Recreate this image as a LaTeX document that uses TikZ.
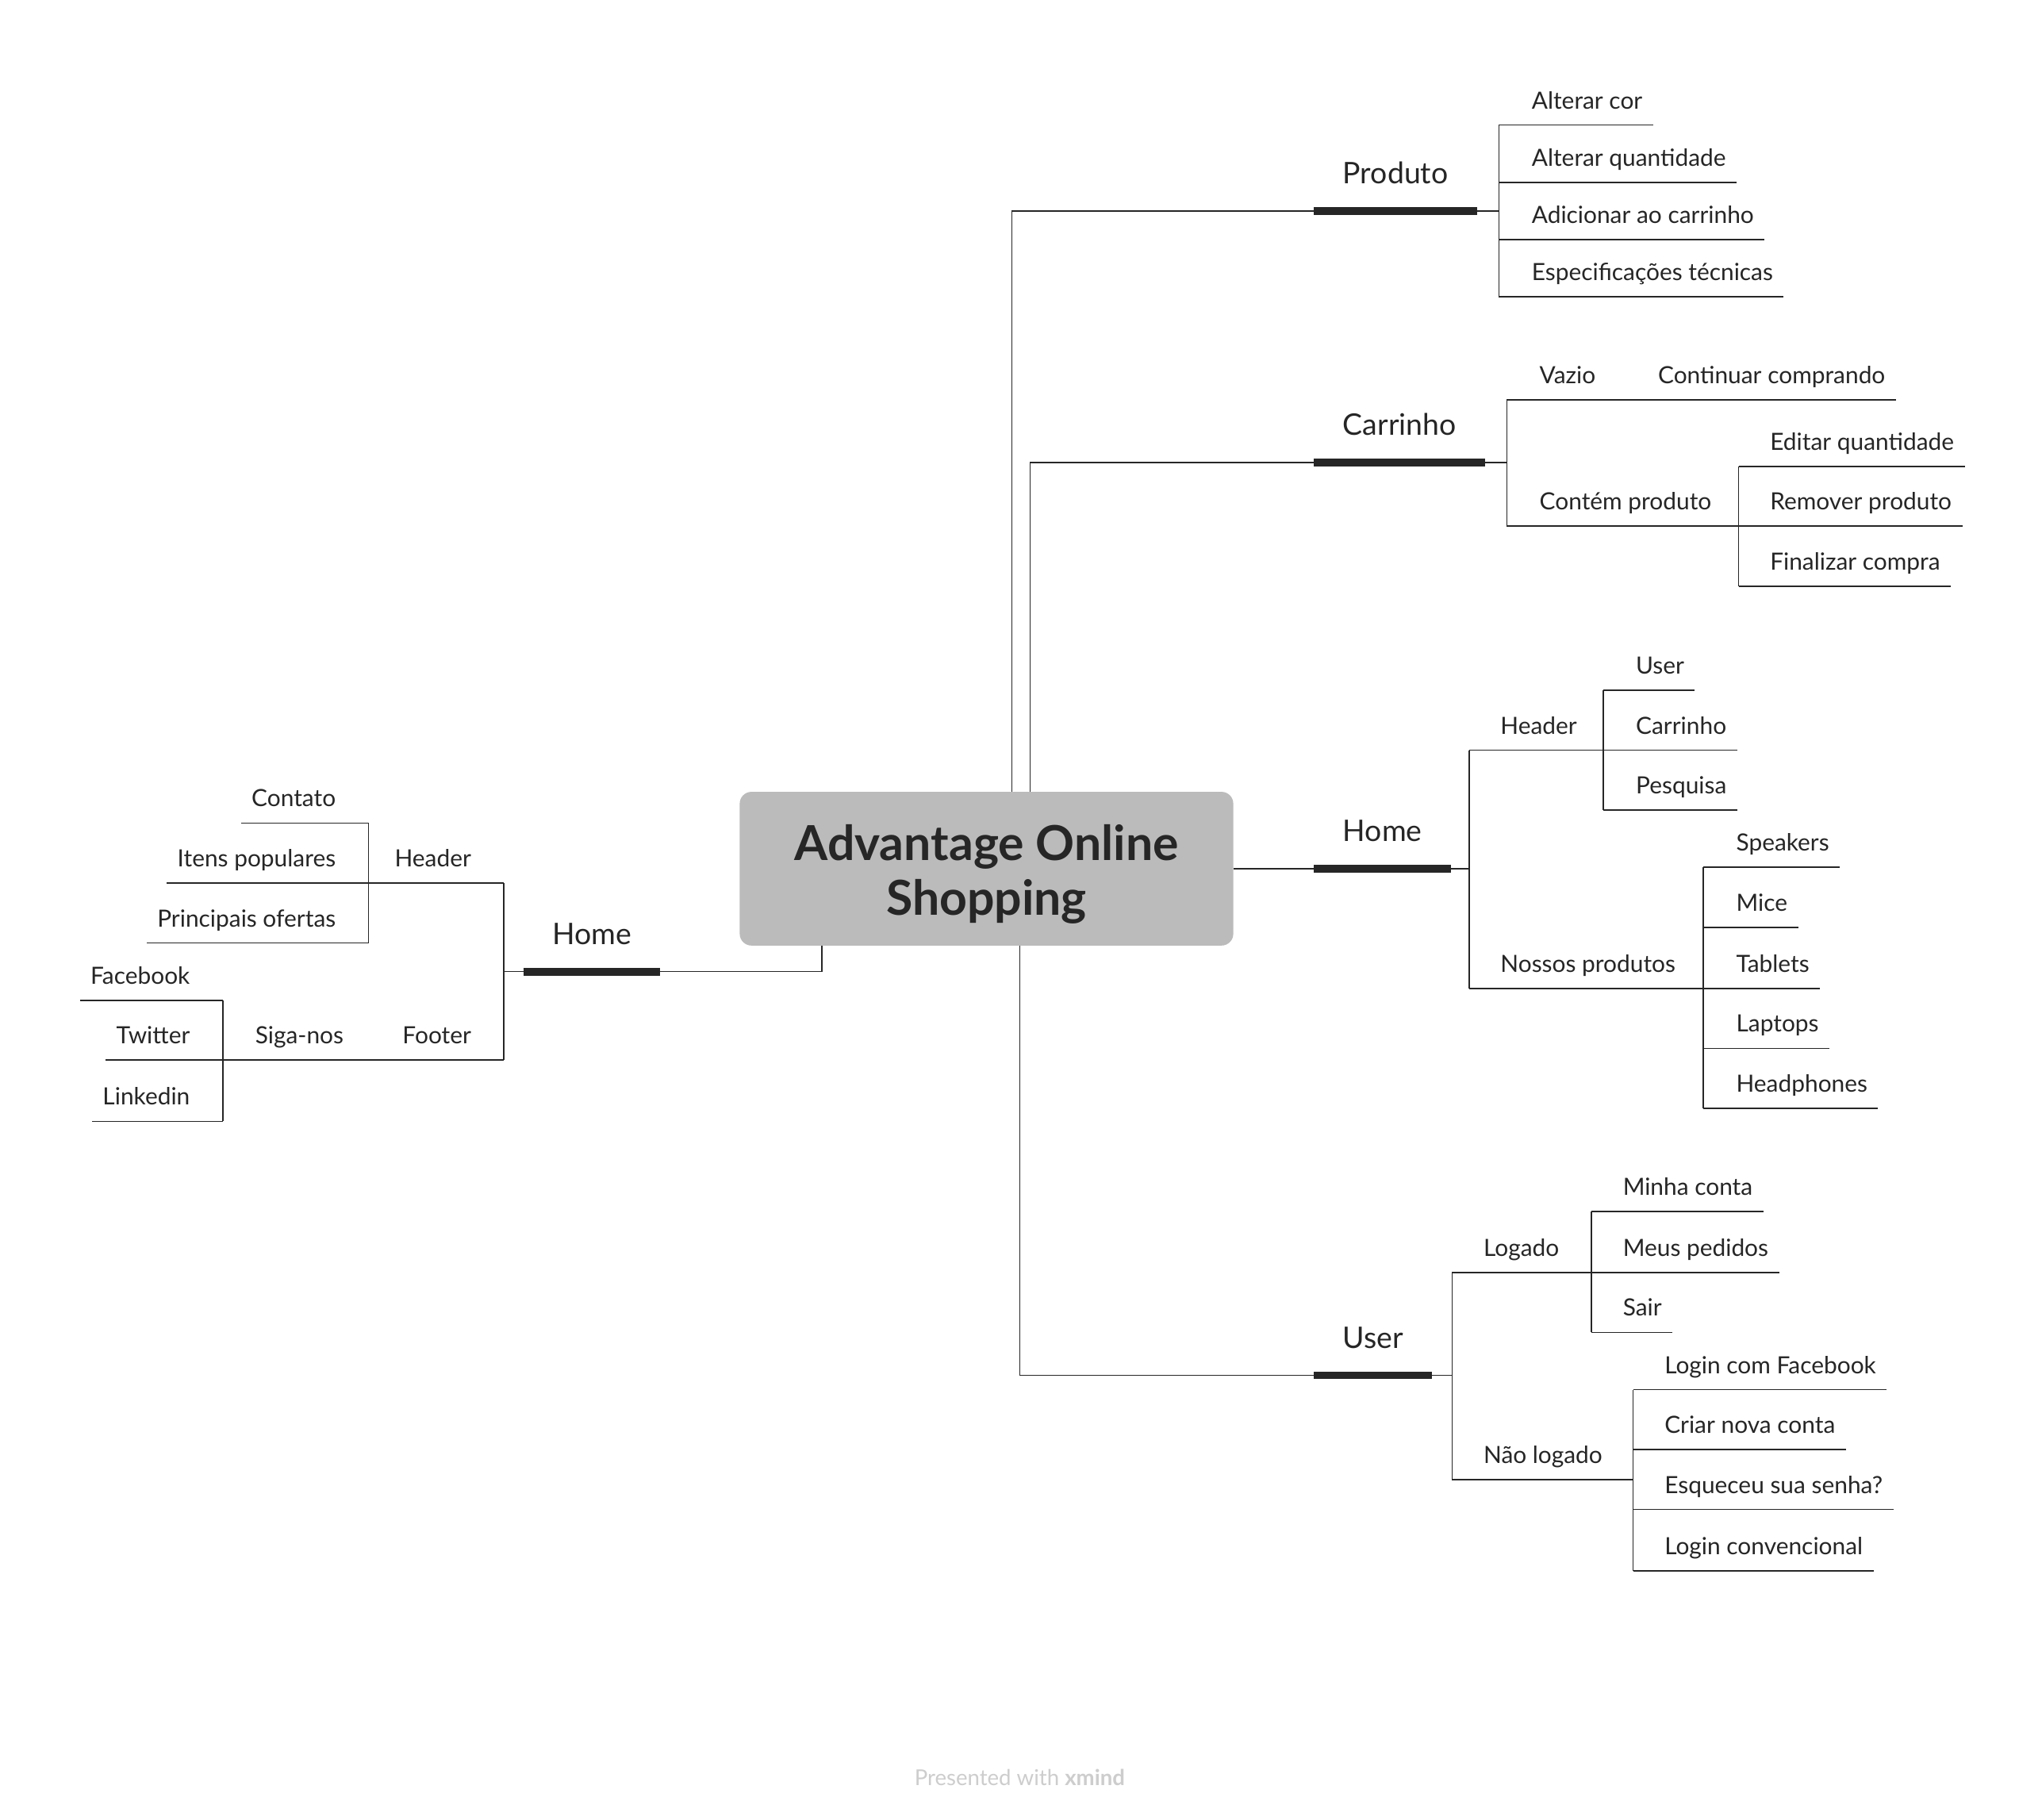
\documentclass[tikz,border=0pt]{standalone}
\usepackage{fontspec}
\setmainfont{Lato}
\definecolor{ink}{RGB}{38,38,38}
\definecolor{rootgray}{RGB}{187,187,187}
\definecolor{credit}{RGB}{205,205,205}

\begin{document}
\begin{tikzpicture}[x=1pt, y=-1pt,
    link/.style={draw=ink, line width=1pt},
    bar/.style={draw=ink, line width=6pt},
    leaf/.style={text=ink, inner sep=0pt, font=\fontsize{18.2}{22}\selectfont},
    topic/.style={text=ink, inner ysep=0pt, inner xsep=22pt, font=\fontsize{22.8}{27}\selectfont},
    rootbox/.style={fill=rootgray, rounded corners=9pt, minimum width=379pt, minimum height=118pt},
    roottext/.style={align=center, text=ink, inner sep=0pt, font=\fontsize{37}{42}\bfseries\selectfont}]
  \fill[white] (0,0) rectangle (1568,1397);
  \useasboundingbox (0,0) rectangle (1568,1397);

  % central topic
  \node[rootbox] (root) at (757.5,667) {};
  \node[roottext] (roottitle) at (757.5,671) {Advantage Online\\Shopping};

  % main topics
  \node[topic, anchor=base west] (produto) at (1009,141) {Produto};
  \node[topic, anchor=base west] (carrinho) at (1009,334) {Carrinho};
  \node[topic, anchor=base west] (homeR) at (1009,646) {Home};
  \node[topic, anchor=base west] (user) at (1009,1035) {User};
  \node[topic, anchor=base east] (homeL) at (507,725) {Home};

  \draw[bar] (produto.west |- 0,162) -- (produto.east |- 0,162);
  \draw[bar] (carrinho.west |- 0,355) -- (carrinho.east |- 0,355);
  \draw[bar] (homeR.west |- 0,667) -- (homeR.east |- 0,667);
  \draw[bar] (user.west |- 0,1056) -- (user.east |- 0,1056);
  \draw[bar] (homeL.west |- 0,746) -- (homeL.east |- 0,746);

  \draw[link] ([xshift=19.5pt]root.north) |- (produto.west |- 0,162);
  \draw[link] ([xshift=33.5pt]root.north) |- (carrinho.west |- 0,355);
  \draw[link] (root.east) -- (homeR.west |- root.east);
  \draw[link] ([xshift=25.5pt]root.south) |- (user.west |- 0,1056);
  \draw[link] ([xshift=-126.5pt]root.south) |- (homeL.east |- 0,746);

  % forks
  \coordinate (produtoF) at (1151,162);
  \coordinate (carrinhoF) at (1157,355);
  \coordinate (homeRF) at (1128,667);
  \coordinate (userF) at (1115,1056);
  \coordinate (homeLF) at (387,746);
  \draw[link] (produto.east |- produtoF) -- (produtoF);
  \draw[link] (carrinho.east |- carrinhoF) -- (carrinhoF);
  \draw[link] (homeR.east |- homeRF) -- (homeRF);
  \draw[link] (user.east |- userF) -- (userF);
  \draw[link] (homeL.west |- homeLF) -- (homeLF);

  % Produto
  \draw[link] (produtoF |- 0,96) -- (produtoF |- 0,228);
  \foreach \n/\y/\t in {pcor/96/Alterar cor, pqtd/140/Alterar quantidade,
      padd/184/Adicionar ao carrinho, pesp/228/Especificações técnicas}{
    \node[leaf, anchor=base west] (\n) at (1176,\y-12.5) {\t};
    \draw[link] (produtoF |- 0,\y) -- ([xshift=8pt]\n.base east |- 0,\y);
  }

  % Carrinho
  \draw[link] (carrinhoF |- 0,307) -- (carrinhoF |- 0,404);
  \node[leaf, anchor=base west] (vazio) at (1182,294.5) {Vazio};
  \coordinate (vazioF) at (1249,307);
  \node[leaf, anchor=base west] (continuar) at (1273,294.5) {Continuar comprando};
  \draw[link] (carrinhoF |- vazioF) -- (vazioF) -- ([xshift=8pt]continuar.base east |- vazioF);
  \node[leaf, anchor=base west] (contem) at (1182,391.5) {Contém produto};
  \coordinate (contemF) at (1335,404);
  \draw[link] (carrinhoF |- contemF) -- (contemF);
  \draw[link] (contemF |- 0,358) -- (contemF |- 0,450);
  \foreach \n/\y/\t in {ceditar/358/Editar quantidade, cremover/404/Remover produto,
      cfinal/450/Finalizar compra}{
    \node[leaf, anchor=base west] (\n) at (1359,\y-12.5) {\t};
    \draw[link] (contemF |- 0,\y) -- ([xshift=8pt]\n.base east |- 0,\y);
  }

  % Home (direita)
  \draw[link] (homeRF |- 0,576) -- (homeRF |- 0,759);
  \node[leaf, anchor=base west] (hheader) at (1152,563.5) {Header};
  \coordinate (hheaderF) at (1231,576);
  \draw[link] (homeRF |- hheaderF) -- (hheaderF);
  \draw[link] (hheaderF |- 0,530) -- (hheaderF |- 0,622);
  \foreach \n/\y/\t in {huser/530/User, hcarrinho/576/Carrinho, hpesquisa/622/Pesquisa}{
    \node[leaf, anchor=base west] (\n) at (1256,\y-12.5) {\t};
    \draw[link] (hheaderF |- 0,\y) -- ([xshift=8pt]\n.base east |- 0,\y);
  }
  \node[leaf, anchor=base west] (nossos) at (1152,746.5) {Nossos produtos};
  \coordinate (nossosF) at (1308,759);
  \draw[link] (homeRF |- nossosF) -- (nossosF);
  \draw[link] (nossosF |- 0,666) -- (nossosF |- 0,851);
  \foreach \n/\y/\t in {nspeak/666/Speakers, nmice/712/Mice, ntab/759/Tablets,
      nlap/805/Laptops, nhead/851/Headphones}{
    \node[leaf, anchor=base west] (\n) at (1333,\y-12.5) {\t};
    \draw[link] (nossosF |- 0,\y) -- ([xshift=8pt]\n.base east |- 0,\y);
  }

  % User
  \draw[link] (userF |- 0,977) -- (userF |- 0,1136);
  \node[leaf, anchor=base west] (logado) at (1139,964.5) {Logado};
  \coordinate (logadoF) at (1222,977);
  \draw[link] (userF |- logadoF) -- (logadoF);
  \draw[link] (logadoF |- 0,930) -- (logadoF |- 0,1023);
  \foreach \n/\y/\t in {lconta/930/Minha conta, lpedidos/977/Meus pedidos, lsair/1023/Sair}{
    \node[leaf, anchor=base west] (\n) at (1246,\y-12.5) {\t};
    \draw[link] (logadoF |- 0,\y) -- ([xshift=8pt]\n.base east |- 0,\y);
  }
  \node[leaf, anchor=base west] (naolog) at (1139,1123.5) {Não logado};
  \coordinate (naologF) at (1254,1136);
  \draw[link] (userF |- naologF) -- (naologF);
  \draw[link] (naologF |- 0,1067) -- (naologF |- 0,1206);
  \foreach \n/\y/\t in {nface/1067/Login com Facebook, ncriar/1113/Criar nova conta,
      nsenha/1159/Esqueceu sua senha?, nconv/1206/Login convencional}{
    \node[leaf, anchor=base west] (\n) at (1278,\y-12.5) {\t};
    \draw[link] (naologF |- 0,\y) -- ([xshift=8pt]\n.base east |- 0,\y);
  }

  % Home (esquerda)
  \draw[link] (homeLF |- 0,678) -- (homeLF |- 0,814);
  \node[leaf, anchor=base east] (lheader) at (362,665.5) {Header};
  \coordinate (lheaderF) at (283,678);
  \draw[link] (homeLF |- lheaderF) -- (lheaderF);
  \draw[link] (lheaderF |- 0,632) -- (lheaderF |- 0,724);
  \foreach \n/\y/\t in {lcontato/632/Contato, litens/678/Itens populares,
      lofertas/724/Principais ofertas}{
    \node[leaf, anchor=base east] (\n) at (258,\y-12.5) {\t};
    \draw[link] (lheaderF |- 0,\y) -- ([xshift=-8pt]\n.base west |- 0,\y);
  }
  \node[leaf, anchor=base east] (lfooter) at (362,801.5) {Footer};
  \coordinate (lfooterF) at (287,814);
  \node[leaf, anchor=base east] (siga) at (264,801.5) {Siga-nos};
  \coordinate (sigaF) at (171,814);
  \draw[link] (homeLF |- lfooterF) -- (lfooterF) -- (sigaF);
  \draw[link] (sigaF |- 0,768) -- (sigaF |- 0,861);
  \foreach \n/\y/\t in {sface/768/Facebook, stwit/814/Twitter, slink/861/Linkedin}{
    \node[leaf, anchor=base east] (\n) at (146,\y-12.5) {\t};
    \draw[link] (sigaF |- 0,\y) -- ([xshift=-8pt]\n.base west |- 0,\y);
  }

  \node[text=credit, inner sep=0pt, font=\fontsize{16.8}{20}\selectfont] (credito) at (783,1365)
    {Presented with \textbf{xmind}};
\end{tikzpicture}
\end{document}
